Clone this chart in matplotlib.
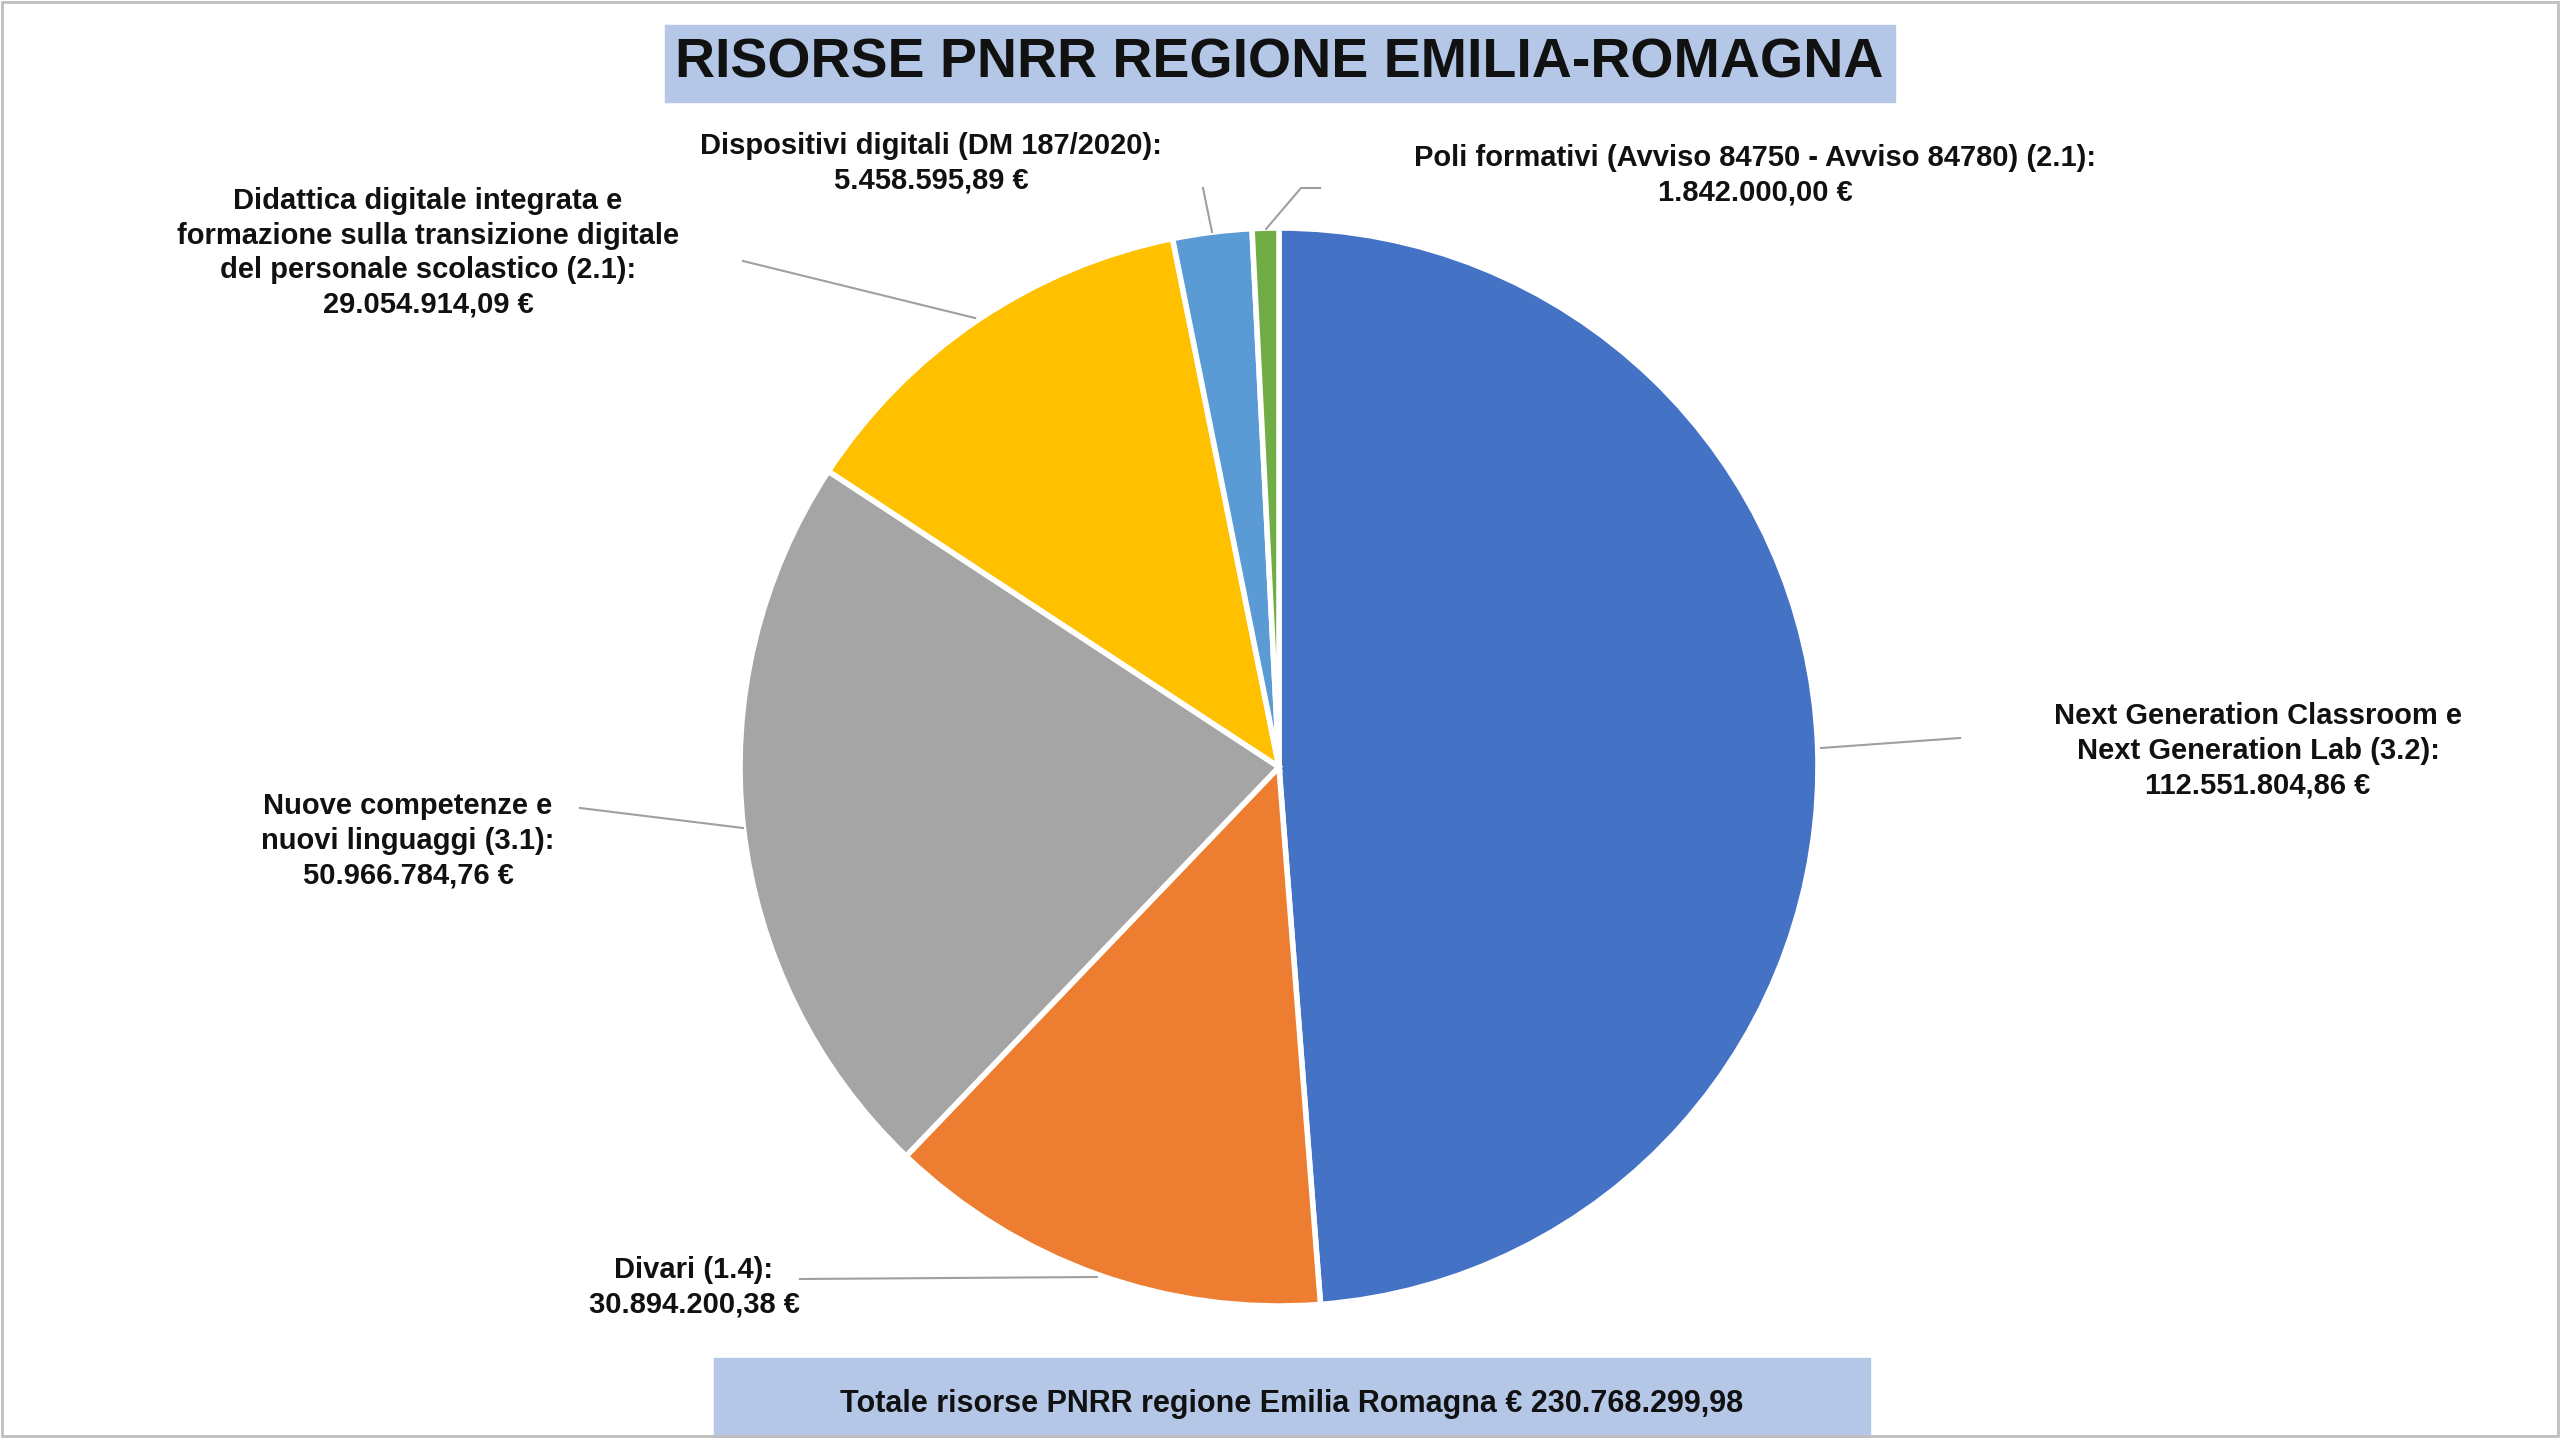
import matplotlib
matplotlib.use("Agg")
import matplotlib.pyplot as plt
from matplotlib.patches import Rectangle

plt.rcParams['font.family'] = ['Liberation Sans', 'DejaVu Sans']

categories = ["Next Generation Classroom e\nNext Generation Lab (3.2):",
              "Divari (1.4):",
              "Nuove competenze e\nnuovi linguaggi (3.1):",
              "Didattica digitale integrata e\nformazione sulla transizione digitale\ndel personale scolastico (2.1):",
              "Dispositivi digitali (DM 187/2020):",
              "Poli formativi (Avviso 84750 - Avviso 84780) (2.1):"]
values = [112551804.86, 30894200.38, 50966784.76, 29054914.09, 5458595.89, 1842000.00]
value_labels = ["112.551.804,86 €", "30.894.200,38 €", "50.966.784,76 €",
                "29.054.914,09 €", "5.458.595,89 €", "1.842.000,00 €"]
colors = ["#4472c4", "#ed7d31", "#a5a5a5", "#ffc000", "#5b9bd5", "#70ad47"]
title = "RISORSE PNRR REGIONE EMILIA-ROMAGNA"
total_text = "Totale risorse PNRR regione Emilia Romagna € 230.768.299,98"

W, H = 2560, 1438
fig = plt.figure(figsize=(25.6, 14.38), dpi=100)
ax = fig.add_axes([0, 0, 1, 1])
ax.set_xlim(0, W); ax.set_ylim(0, H); ax.set_aspect('equal'); ax.axis('off')

ax.pie(values, colors=colors, startangle=90, counterclock=False,
       center=(1279, 671), radius=539, frame=True,
       wedgeprops=dict(edgecolor='white', linewidth=4))
ax.set_xlim(0, W); ax.set_ylim(0, H); ax.axis('off')

# label positions (text center) and leader lines
text_pos = [(2258, 687), (694, 151), (408, 597), (428, 1185), (931, 1275), (1755, 1263)]
lines = [[(1821, 690), (1960, 700)],
         [(800, 159), (1097, 161)],
         [(580, 630), (743, 610)],
         [(743, 1177), (975, 1120)],
         [(1203, 1250), (1212, 1206)],
         [(1320, 1250), (1301, 1250), (1266, 1209)]]
for cat, vl, (tx, ty), ln in zip(categories, value_labels, text_pos, lines):
    ax.text(tx, ty, cat + "\n" + vl, ha='center', va='center', fontsize=21,
            fontweight='bold', linespacing=1.3, color='#111111')
    ax.plot([p[0] for p in ln], [p[1] for p in ln], color='#a0a0a0', lw=1.5)

# title box
ax.add_patch(Rectangle((665, 1336), 1230, 77, color='#b4c7e7', zorder=1))
ax.text(1279, 1375, title, ha='center', va='center', fontsize=40,
        fontweight='bold', color='#111111', zorder=2)
# total box
ax.add_patch(Rectangle((714, 0), 1156, 80, color='#b4c7e7', zorder=1))
ax.text(1292, 34, total_text, ha='center', va='center', fontsize=22,
        fontweight='bold', color='#111111', zorder=2)
# border
ax.add_patch(Rectangle((2, 2), W - 4, H - 4, fill=False, edgecolor='#bfbfbf', lw=2))

fig.savefig("out.png", dpi=100, facecolor='white')
